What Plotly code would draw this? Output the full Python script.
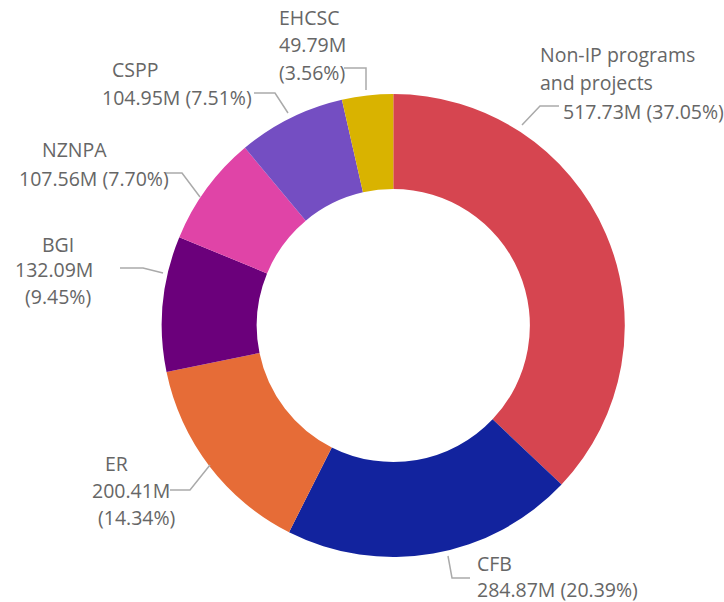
import plotly.graph_objects as go

# ---- data ----
categories = ["Non-IP programs and projects", "CFB", "ER", "BGI", "NZNPA", "CSPP", "EHCSC"]
values_m = [517.73, 284.87, 200.41, 132.09, 107.56, 104.95, 49.79]
colors = ["#D64550", "#12239E", "#E66C37", "#6B007B", "#E044A7", "#744EC2", "#D9B300"]

total = sum(values_m)
pcts = [v / total * 100 for v in values_m]

W, H = 724, 602
CX, CY, R = 393.3, 325.5, 231.5

def px(x):
    return x / W

def py(y):
    return 1 - y / H

fig = go.Figure(go.Pie(
    labels=categories,
    values=values_m,
    marker=dict(colors=colors, line=dict(width=0)),
    hole=0.59,
    sort=False,
    direction="clockwise",
    rotation=0,
    textinfo="none",
    hoverinfo="label+value+percent",
    showlegend=False,
    domain=dict(x=[px(CX - R), px(CX + R)], y=[py(CY + R), py(CY - R)]),
))

# label layout: (category index, line part, x_left px, y_center px)
# part: literal name line, "v" value, "p" percent, "vp" both
label_layout = [
    (0, "Non-IP programs", 538, 55),
    (0, "and projects", 538, 83),
    (0, "vp", 561, 111),
    (1, "CFB", 475, 563),
    (1, "vp", 475, 589),
    (2, "ER", 103, 463),
    (2, "v", 90, 490),
    (2, "p", 96, 517),
    (3, "BGI", 40, 244),
    (3, "v", 13, 270),
    (3, "p", 23, 296),
    (4, "NZNPA", 40, 149),
    (4, "vp", 17, 178),
    (5, "CSPP", 110, 70),
    (5, "vp", 100, 97),
    (6, "EHCSC", 277, 18),
    (6, "v", 277, 45),
    (6, "p", 277, 72),
]

leaders = [
    [(559, 106), (540, 106), (522, 125)],
    [(344, 68), (366, 68), (366, 90)],
    [(254, 93), (275, 93), (288, 113)],
    [(165, 173), (182, 173), (200, 197)],
    [(120, 268), (143, 268), (163, 273)],
    [(170, 490), (190, 490), (210, 465)],
    [(470, 578), (452, 578), (448, 556)],
]

FONT = dict(family="Open Sans, Noto Sans, sans-serif", size=19.5, color="#666666")

for idx, part, x, y in label_layout:
    v = values_m[idx]
    p = pcts[idx]
    if part == "v":
        txt = f"{v:.2f}M"
    elif part == "p":
        txt = f"({p:.2f}%)"
    elif part == "vp":
        txt = f"{v:.2f}M ({p:.2f}%)"
    else:
        txt = part
    fig.add_annotation(
        x=px(x), y=py(y), xref="paper", yref="paper",
        text=txt, showarrow=False, xanchor="left", yanchor="middle",
        font=FONT,
    )

for pts in leaders:
    path = "M " + " L ".join(f"{px(a)},{py(b)}" for a, b in pts)
    fig.add_shape(type="path", path=path, xref="paper", yref="paper",
                  line=dict(color="#AAAAAA", width=1.5))

fig.update_layout(
    width=W, height=H,
    margin=dict(l=0, r=0, t=0, b=0),
    paper_bgcolor="white",
    plot_bgcolor="white",
)

fig.write_html(
    "out.html",
    config={"displayModeBar": False},
    post_script="document.body.style.margin='0';document.body.style.overflow='hidden';",
)
